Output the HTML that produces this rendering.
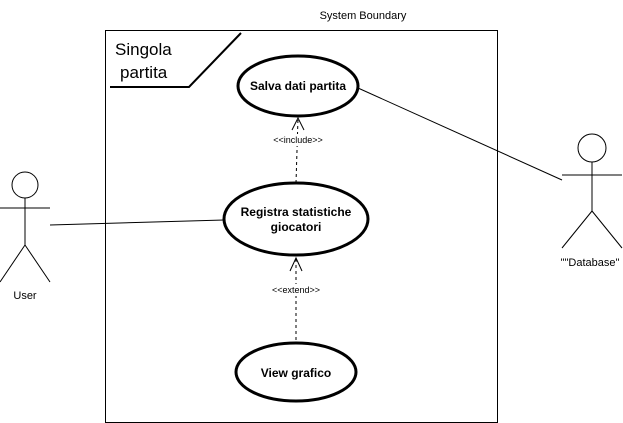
<!DOCTYPE html>
<html><head><meta charset="utf-8"><style>body{margin:0;background:#fff}svg{display:block}</style></head><body>
<svg width="623" height="423" xmlns="http://www.w3.org/2000/svg" font-family="Liberation Sans, Arial, sans-serif">
<rect x="105.5" y="30.5" width="392" height="392" fill="#fff" stroke="#000" stroke-width="1"/>
<text x="363" y="19" font-size="11" text-anchor="middle">System Boundary</text>
<text x="115" y="55" font-size="17">Singola</text>
<text x="120" y="78" font-size="17">partita</text>
<path d="M110 87 H189 L241 33" fill="none" stroke="#000" stroke-width="2"/>
<line x1="50" y1="225" x2="224" y2="220" stroke="#000"/>
<line x1="358" y1="88" x2="562" y2="180" stroke="#000"/>
<line x1="296" y1="183" x2="298" y2="118" stroke="#000" stroke-dasharray="3,3"/>
<path d="M292 130 L298 118 L304 130" fill="none" stroke="#000"/>
<rect x="268" y="134" width="60" height="12" fill="#fff"/>
<text x="298" y="143" font-size="9" text-anchor="middle">&lt;&lt;include&gt;&gt;</text>
<line x1="296" y1="340" x2="296" y2="258" stroke="#000" stroke-dasharray="3,3"/>
<path d="M290 271 L296 258 L302 271" fill="none" stroke="#000"/>
<rect x="266" y="284" width="60" height="12" fill="#fff"/>
<text x="296" y="293" font-size="9" text-anchor="middle">&lt;&lt;extend&gt;&gt;</text>
<ellipse cx="298" cy="86" rx="60" ry="30" fill="#fff" stroke="#000" stroke-width="3"/>
<text x="298" y="90" font-size="12" font-weight="bold" text-anchor="middle">Salva dati partita</text>
<ellipse cx="296" cy="219" rx="72" ry="36" fill="#fff" stroke="#000" stroke-width="3"/>
<text x="296" y="216" font-size="12" font-weight="bold" text-anchor="middle">Registra statistiche</text>
<text x="296" y="231" font-size="12" font-weight="bold" text-anchor="middle">giocatori</text>
<ellipse cx="296" cy="372" rx="60" ry="29" fill="#fff" stroke="#000" stroke-width="3"/>
<text x="296" y="377" font-size="12" font-weight="bold" text-anchor="middle">View grafico</text>
<g fill="none" stroke="#000">
<circle cx="25" cy="185" r="13"/>
<path d="M25 198 V245 M0 208 H50 M25 245 L0 282 M25 245 L50 282"/>
<circle cx="592" cy="148" r="14"/>
<path d="M592 162 V211 M562 175 H622 M592 211 L562 248 M592 211 L622 248"/>
</g>
<text x="25" y="299" font-size="11" text-anchor="middle">User</text>
<text x="590" y="266" font-size="11" text-anchor="middle">""Database"</text>
</svg>
</body></html>
